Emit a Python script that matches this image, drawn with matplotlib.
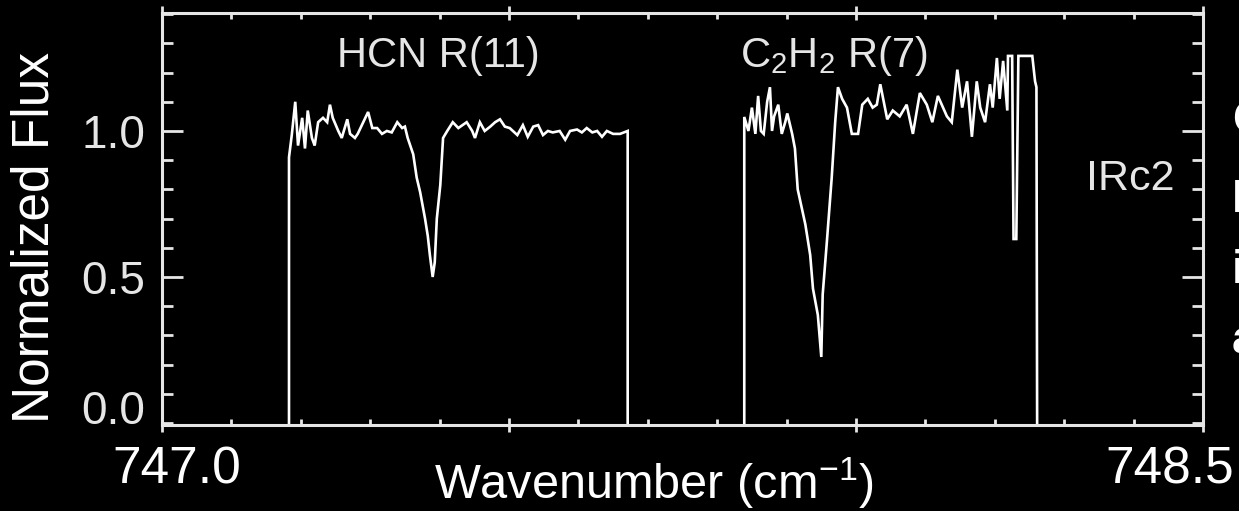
import matplotlib
matplotlib.use('Agg')
import matplotlib.pyplot as plt
from matplotlib.ticker import MultipleLocator, FixedLocator

# ---------------- data ----------------
hcn_wn = [747.183, 747.183, 747.187, 747.192, 747.196, 747.202, 747.206, 747.210,
          747.216, 747.220, 747.225, 747.232, 747.238, 747.242, 747.246, 747.254,
          747.259, 747.267, 747.271, 747.278, 747.282, 747.290, 747.297, 747.303,
          747.310, 747.317, 747.324, 747.331, 747.339, 747.346, 747.350, 747.354,
          747.362, 747.367, 747.372, 747.379, 747.383, 747.386, 747.390, 747.393,
          747.396, 747.401, 747.405, 747.411, 747.419, 747.427, 747.439, 747.447,
          747.451, 747.458, 747.465, 747.473, 747.480, 747.487, 747.494, 747.501,
          747.512, 747.520, 747.527, 747.535, 747.542, 747.549, 747.556, 747.563,
          747.573, 747.581, 747.588, 747.598, 747.605, 747.612, 747.620, 747.627,
          747.634, 747.641, 747.650, 747.660, 747.671, 747.671]
hcn_flux = [0.0, 0.91, 0.986, 1.10, 0.95, 1.045, 0.94, 1.07,
            0.976, 0.95, 1.03, 1.045, 1.03, 1.09, 1.045, 1.00,
            0.976, 1.04, 0.99, 0.976, 0.99, 1.03, 1.065, 1.01,
            1.01, 0.99, 1.00, 0.995, 1.03, 1.01, 1.015, 0.976,
            0.92, 0.84, 0.79, 0.70, 0.64, 0.575, 0.50, 0.55,
            0.70, 0.815, 0.976, 1.00, 1.03, 1.01, 1.03, 1.00,
            0.976, 1.03, 1.00, 1.015, 1.03, 1.04, 1.015, 1.01,
            0.986, 1.02, 0.98, 1.015, 1.02, 0.986, 1.00, 0.995,
            1.00, 0.97, 1.00, 1.005, 0.995, 1.01, 0.995, 1.00,
            0.98, 1.00, 0.99, 0.99, 1.00, 0.0]

c2h2_wn = [747.839, 747.839, 747.845, 747.850, 747.855, 747.859, 747.863, 747.867,
           747.872, 747.876, 747.879, 747.882, 747.888, 747.893, 747.898, 747.901,
           747.908, 747.912, 747.916, 747.927, 747.934, 747.938, 747.945, 747.950,
           747.952, 747.958, 747.965, 747.970, 747.974, 747.980, 747.987, 747.994,
           748.003, 748.009, 748.017, 748.024, 748.030, 748.035, 748.045, 748.053,
           748.063, 748.073, 748.082, 748.092, 748.102, 748.110, 748.118, 748.131,
           748.138, 748.146, 748.153, 748.160, 748.167, 748.174, 748.179, 748.186,
           748.193, 748.197, 748.203, 748.207, 748.212, 748.218, 748.219, 748.225,
           748.227, 748.231, 748.234, 748.254, 748.258, 748.260, 748.261]
c2h2_flux = [0.0, 1.048, 1.00, 1.08, 0.99, 1.12, 1.00, 0.99,
             1.10, 1.15, 1.00, 1.05, 1.09, 0.99, 1.03, 1.06,
             0.99, 0.94, 0.80, 0.68, 0.575, 0.46, 0.37, 0.226,
             0.44, 0.62, 0.84, 1.03, 1.15, 1.11, 1.08, 0.99,
             0.99, 1.09, 1.11, 1.08, 1.09, 1.16, 1.04, 1.07,
             1.05, 1.09, 0.99, 1.13, 1.09, 1.03, 1.12, 1.05,
             1.03, 1.21, 1.08, 1.17, 0.98, 1.17, 1.08, 1.03,
             1.16, 1.08, 1.25, 1.11, 1.24, 1.07, 1.257, 1.257,
             0.63, 0.63, 1.257, 1.257, 1.17, 1.15, 0.0]

line_labels = ["HCN R(11)", r"C$_\mathregular{2}$H$_\mathregular{2}$ R(7)", "IRc2"]
ytick_vals = [0.5, 1.0]
ytick_labels = ["0.5", "1.0"]
edge_labels = ["747.0", "748.5"]
side_letters = ["C", "P", "i", "a"]

# ---------------- style ----------------
plt.rcParams['font.family'] = ['Liberation Sans', 'DejaVu Sans']
plt.rcParams['mathtext.fontset'] = 'custom'
plt.rcParams['mathtext.rm'] = 'Liberation Sans'
plt.rcParams['mathtext.it'] = 'Liberation Sans:italic'
plt.rcParams['mathtext.bf'] = 'Liberation Sans:bold'

W, H = 1239, 511
fg = '#e6e6e6'
fig = plt.figure(figsize=(W / 100, H / 100), dpi=100, facecolor='black')
ax = fig.add_axes([162 / W, 86 / H, 1041 / W, 412 / H])
ax.set_facecolor('black')

ax.plot(hcn_wn, hcn_flux, color='white', lw=1.9, solid_joinstyle='miter')
ax.plot(c2h2_wn, c2h2_flux, color='white', lw=1.9, solid_joinstyle='miter')

ax.set_xlim(747.0, 748.5)
ax.set_ylim(-0.007, 1.404)

for s in ax.spines.values():
    s.set_color(fg)
    s.set_linewidth(2.2)

ax.xaxis.set_major_locator(MultipleLocator(0.5))
ax.xaxis.set_minor_locator(MultipleLocator(0.1))
ax.yaxis.set_major_locator(FixedLocator(ytick_vals))
ax.yaxis.set_minor_locator(MultipleLocator(0.1))
ax.set_yticklabels(ytick_labels)

ax.tick_params(axis='y', which='major', direction='in', length=15, width=2,
               color=fg, left=True, right=True, labelsize=33,
               labelcolor=fg, pad=12)
ax.tick_params(axis='y', which='minor', direction='in', length=8, width=2,
               color=fg, left=True, right=True)
ax.tick_params(axis='x', which='major', direction='inout', length=10, width=2,
               color=fg, top=True, bottom=True, labelbottom=False)
ax.tick_params(axis='x', which='minor', direction='in', length=4, width=2,
               color=fg, top=True, bottom=True)

# "0.0" label (sits slightly above the zero line in the reference)
ax.text(-17 / 1041, 0.055, "0.0", transform=ax.get_yaxis_transform(),
        ha='right', va='center_baseline', fontsize=33, color=fg)

# in-plot labels
ax.text(747.398, 1.219, line_labels[0], ha='center', va='baseline',
        fontsize=30, color=fg)
ax.text(747.968, 1.219, line_labels[1], ha='center', va='baseline',
        fontsize=30, color=fg)
ax.text(748.395, 0.798, line_labels[2], ha='center', va='baseline',
        fontsize=31, color=fg)

# outer presentation labels
fig.text(35 / W, 1 - 237 / H, "Normalized Flux", rotation=90,
         ha='center', va='center', fontsize=37, color='white')
fig.text(654 / W, 1 - 499 / H, r"Wavenumber (cm$^{\mathregular{-1}}$)",
         ha='center', va='baseline', fontsize=35, color='white')
fig.text(177 / W, 1 - 483 / H, edge_labels[0], ha='center', va='baseline',
         fontsize=37, color='white')
fig.text(1170 / W, 1 - 483 / H, edge_labels[1], ha='center', va='baseline',
         fontsize=37, color='white')

# side text cut off by the right edge, as in the reference
for letter, base in zip(side_letters, [133, 212, 283, 353]):
    fig.text(1232 / W, 1 - base / H, letter, ha='left', va='baseline',
             fontsize=33, fontweight='bold', color='white')

fig.savefig('out.png', dpi=100, facecolor='black')
